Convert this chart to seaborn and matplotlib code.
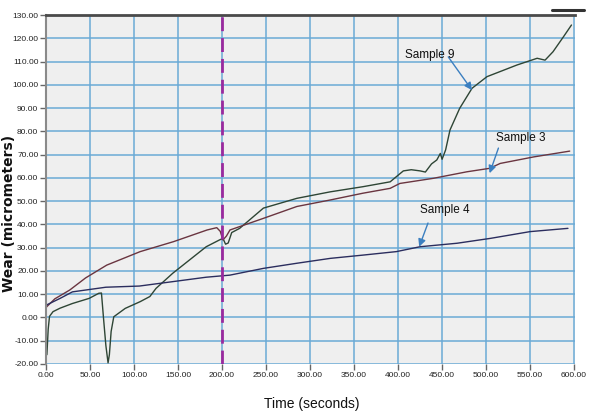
import numpy as np
import pandas as pd
import seaborn as sns
import matplotlib
matplotlib.use("Agg")
import matplotlib.pyplot as plt
from matplotlib.lines import Line2D

# ---------------- data ----------------
t_s9 = [0, 1, 2.5, 4, 8, 16, 30, 49, 60, 63, 65.5, 68, 70.5, 72, 74, 77, 90, 107, 118, 125,
        144, 163, 182, 197, 201, 204, 207, 211, 220, 247, 285, 323, 360, 391, 398, 406, 415,
        425, 431, 438, 444, 448, 450, 454, 459, 470, 484, 501, 516, 535, 558, 567, 576, 588, 597]
v_s9 = [-8, -16, -5, 0.5, 2.5, 4, 6, 8.2, 10.4, 10.5, -1, -12, -19.5, -16, -6, 0.3, 3.9, 6.8, 9, 12.5,
        19, 24.7, 30.4, 33.3, 34, 31.5, 32, 36.5, 38.3, 47, 51.2, 54, 56.2, 58.3, 60.5, 63, 63.5,
        63, 62.5, 66, 67.7, 70.5, 68, 72, 80.6, 89.9, 98.5, 103.5, 105.7, 108.5, 111.4, 110.6, 114.2, 120.7, 125.7]

t_s3 = [0, 0.8, 10, 27, 45, 69, 107, 145, 183, 194, 198, 201, 205, 209, 247, 285, 323, 360,
        391, 402, 440, 478, 504, 516, 554, 595]
v_s3 = [4, 4.6, 8, 11.8, 17, 22.5, 28.3, 32.6, 37.6, 38.6, 37, 33.3, 35, 37.6, 42.6, 47.7, 50.5, 53.4,
        55.5, 57.6, 59.8, 62.6, 64.1, 66.2, 69, 71.5]

t_s4 = [0, 0.8, 16, 30, 68, 106, 144, 182, 209, 247, 285, 323, 360, 398, 425, 467, 505, 550, 593]
v_s4 = [4.5, 5.4, 8.2, 11, 13, 13.5, 15.4, 17.3, 18.2, 21.1, 23.3, 25.4, 26.8, 28.3, 30.4, 31.9, 34, 36.9, 38.3]

series_names = ["Sample 9", "Sample 3", "Sample 4"]
x_ticks = [0, 50, 100, 150, 200, 250, 300, 350, 400, 450, 500, 550, 600]
y_ticks = [-20, -10, 0, 10, 20, 30, 40, 50, 60, 70, 80, 90, 100, 110, 120, 130]
marker_time = 200

# annotation anchors (label position, arrow tail, arrow head) in data units
ann_text = {"Sample 9": (436, 112.8), "Sample 3": (539, 77), "Sample 4": (453, 46)}
ann_tail = {"Sample 9": (457, 112), "Sample 3": (514, 72.8), "Sample 4": (434, 40.6)}
ann_head = {"Sample 9": (484, 97.7), "Sample 3": (504, 62), "Sample 4": (424, 30.4)}

# ---------------- build long table ----------------
df = pd.concat([
    pd.DataFrame({"Time": t_s9, "Wear": v_s9, "Sample": "Sample 9"}),
    pd.DataFrame({"Time": t_s3, "Wear": v_s3, "Sample": "Sample 3"}),
    pd.DataFrame({"Time": t_s4, "Wear": v_s4, "Sample": "Sample 4"}),
], ignore_index=True)

sns.set_style("white", {"axes.facecolor": "#efefef"})
plt.rcParams["font.family"] = ["Liberation Sans Narrow", "Liberation Sans", "DejaVu Sans"]

fig = plt.figure(figsize=(5.92, 4.16), dpi=100)
ax = fig.add_axes([46 / 592, 1 - 364 / 416, (575 - 46) / 592, (364 - 15) / 416])

palette = {"Sample 9": "#2e4535", "Sample 3": "#6a3540", "Sample 4": "#2b2d5e"}
sns.lineplot(data=df, x="Time", y="Wear", hue="Sample", palette=palette,
             hue_order=series_names, linewidth=1.0, legend=False, ax=ax, sort=False)

ax.set_xlim(0, 601)
ax.set_ylim(-20, 130)
ax.set_xticks(x_ticks)
ax.set_yticks(y_ticks)
ax.set_xticklabels([f"{v:.2f}" for v in x_ticks])
ax.set_yticklabels([f"{v:.2f}" for v in y_ticks])
ax.grid(True, color="#6aaad6", linewidth=1.1)
ax.set_axisbelow(True)

ax.axvline(marker_time, color="#9a2a9e", linewidth=2, linestyle=(0, (5, 2.5)), zorder=5)

for side in ["right", "bottom"]:
    ax.spines[side].set_visible(False)
ax.spines["left"].set_color("#8a8a8a")
ax.spines["left"].set_linewidth(1.5)
ax.spines["top"].set_color("#4a4a4a")
ax.spines["top"].set_linewidth(2)

ax.tick_params(axis="both", which="both", direction="out", length=4, width=1,
               color="#666666", labelsize=6, labelcolor="#222222", pad=1.5,
               left=True, bottom=True)

ax.set_xlabel("")
ax.set_ylabel("")
fig.text(312 / 592, 1 - 404 / 416, "Time (seconds)", fontsize=10, color="#111111",
         ha="center", va="center")
fig.text(9 / 592, 1 - 213 / 416, "Wear (micrometers)", fontsize=10, fontweight="bold",
         family=["DejaVu Sans"], color="#111111", rotation=90, ha="center", va="center")

for name in series_names:
    ax.annotate("", xy=ann_head[name], xytext=ann_tail[name],
                arrowprops=dict(arrowstyle="-|>", color="#3b7fc0", lw=1.0,
                                mutation_scale=11, shrinkA=0, shrinkB=0), zorder=6)
    ax.text(*ann_text[name], name, fontsize=8.5, color="#111111", ha="center", va="center", zorder=6)

fig.add_artist(Line2D([552 / 592, 584 / 592], [1 - 10 / 416, 1 - 10 / 416],
                      color="#333333", linewidth=2.2))

fig.savefig("out.png", dpi=100)
